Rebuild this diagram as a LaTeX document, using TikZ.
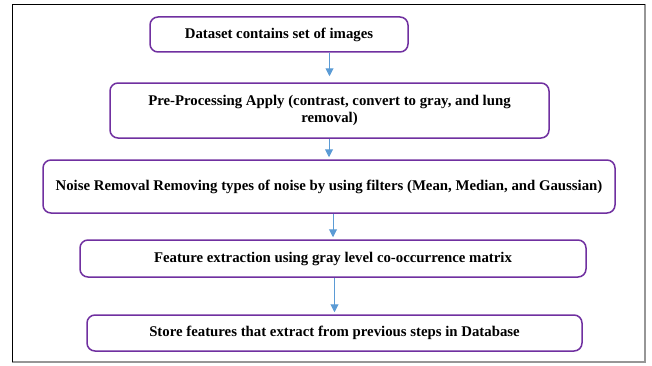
\documentclass[tikz,border=0pt]{standalone}
\usepackage{fontspec}
\setmainfont{Liberation Serif}
\usepackage{tikz}
\usetikzlibrary{arrows.meta}
\definecolor{amethyst}{RGB}{112, 48, 160}
\definecolor{skyblue}{RGB}{91, 155, 213}
\definecolor{framegray}{RGB}{150, 150, 150}

\begin{document}
\begin{tikzpicture}[x=1pt, y=1pt,
        stage/.style={draw=amethyst, line width=1.5pt, rounded corners=8pt,
                      fill=white, align=center, inner sep=2pt,
                      font=\fontsize{14.8}{17}\selectfont\bfseries},
        flow/.style={skyblue, line width=1pt, -{Triangle[width=8pt, length=8pt]}, shorten >=2pt}]
            \useasboundingbox (0, 0) rectangle (652, 365);
            % outer frame with the darker edge at right and bottom
            \draw[framegray, line width=2pt]     (645, 361) -- (645,   3) -- ( 12,   3);
            \draw[black, line width=0.8pt]       ( 12,   3) -- ( 12, 361) -- (645, 361);
            % the five steps
            \node[stage, minimum width=258pt, minimum height=35pt] (dataset)  at (279.0, 330.5) {Dataset contains set of images};
            \node[stage, minimum width=439pt, minimum height=55pt] (preproc)  at (329.5, 254.5) {Pre-Processing Apply (contrast, convert to gray, and lung\\removal)};
            \node[stage, minimum width=572pt, minimum height=53pt] (denoise)  at (329.0, 178.5) {Noise Removal Removing types of noise by using filters (Mean, Median, and Gaussian)};
            \node[stage, minimum width=506pt, minimum height=37pt] (glcm)     at (333.0, 106.5) {Feature extraction using gray level co-occurrence matrix};
            \node[stage, minimum width=495pt, minimum height=36pt] (store)    at (334.5,  32.0) {Store features that extract from previous steps in Database};
            % arrows between the steps
            \draw[flow, shorten >=6pt] (dataset.south -| preproc.north) -- (preproc.north);
            \draw[flow]                (preproc.south -| denoise.north) -- (denoise.north);
            \draw[flow]                (denoise.south -| glcm.north)    -- (glcm.north);
            \draw[flow]                (glcm.south -| store.north)      -- (store.north);
        \end{tikzpicture}
\end{document}
